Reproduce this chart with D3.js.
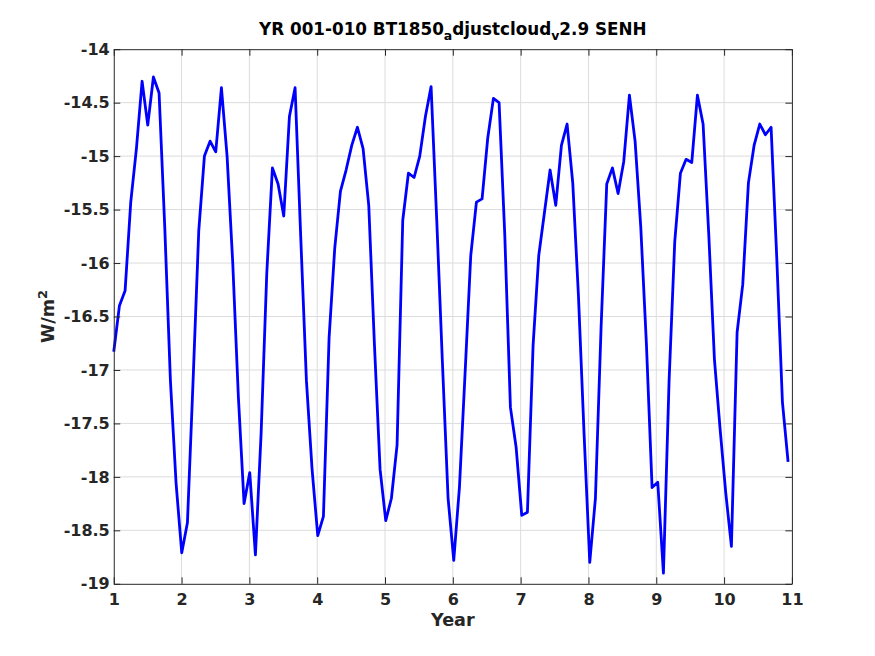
<!DOCTYPE html>
<html>
<head>
<meta charset="utf-8">
<script src="https://cdn.jsdelivr.net/npm/d3@7"></script>
<style>
  body { margin: 0; background: #fff; }
  svg { display: block; font-family: "DejaVu Sans", sans-serif; }
</style>
</head>
<body>
<svg id="chart"></svg>
<script>
// monthly values, one array per model year
const yr1  = [-16.83, -16.40, -16.26, -15.43, -14.93, -14.30, -14.71, -14.26, -14.41, -15.66, -17.10, -18.06];
const yr2  = [-18.71, -18.43, -17.10, -15.70, -15.00, -14.86, -14.96, -14.36, -15.00, -16.00, -17.26, -18.25];
const yr3  = [-17.96, -18.73, -17.60, -16.10, -15.11, -15.26, -15.56, -14.63, -14.36, -15.76, -17.10, -17.93];
const yr4  = [-18.55, -18.37, -16.70, -15.86, -15.33, -15.13, -14.90, -14.73, -14.93, -15.46, -16.76, -17.93];
const yr5  = [-18.41, -18.20, -17.70, -15.60, -15.16, -15.20, -15.00, -14.63, -14.35, -15.60, -16.93, -18.20];
const yr6  = [-18.78, -18.10, -17.03, -15.93, -15.43, -15.40, -14.83, -14.46, -14.50, -15.73, -17.35, -17.72];
const yr7  = [-18.36, -18.33, -16.77, -15.93, -15.53, -15.13, -15.46, -14.90, -14.70, -15.25, -16.30, -17.60];
const yr8  = [-18.80, -18.20, -16.60, -15.26, -15.11, -15.35, -15.05, -14.43, -14.86, -15.66, -16.76, -18.10];
const yr9  = [-18.05, -18.90, -17.10, -15.80, -15.16, -15.03, -15.06, -14.43, -14.70, -15.73, -16.90, -17.55];
const yr10 = [-18.15, -18.65, -16.65, -16.20, -15.25, -14.90, -14.70, -14.80, -14.73, -15.95, -17.30, -17.86];

// time axis: start year and step between samples (30.5-day months)
const tStart = 1;
const tStep = 30.5 / 365;

const xTicks = [1, 2, 3, 4, 5, 6, 7, 8, 9, 10, 11];
const yTicks = [-19, -18.5, -18, -17.5, -17, -16.5, -16, -15.5, -15, -14.5, -14];

const values = [].concat(yr1, yr2, yr3, yr4, yr5, yr6, yr7, yr8, yr9, yr10);
const data = values.map((v, i) => ({ t: tStart + i * tStep, v: v }));

// figure size and axes box (matlab default position)
const W = 875, H = 656;
const box = { left: 113.75, right: 791.9, top: 49.2, bottom: 583.8 };
const axisColor = "#262626";

const svg = d3.select("#chart").attr("width", W).attr("height", H);

const x = d3.scaleLinear().domain([1, 11]).range([box.left, box.right]);
const y = d3.scaleLinear().domain([-19, -14]).range([box.bottom, box.top]);

// grid
const grid = svg.append("g");
grid.selectAll("line.gx")
    .data(xTicks.slice(1, -1))
    .enter()
    .append("line")
    .attr("x1", d => x(d)).attr("x2", d => x(d))
    .attr("y1", box.top).attr("y2", box.bottom)
    .attr("stroke", "#dcdcdc").attr("stroke-width", 1);
grid.selectAll("line.gy")
    .data(yTicks.slice(1, -1))
    .enter()
    .append("line")
    .attr("y1", d => y(d)).attr("y2", d => y(d))
    .attr("x1", box.left).attr("x2", box.right)
    .attr("stroke", "#dcdcdc").attr("stroke-width", 1);

// data line
const line = d3.line().x(d => x(d.t)).y(d => y(d.v));
svg.append("path")
    .datum(data)
    .attr("d", line)
    .attr("fill", "none")
    .attr("stroke", "#0000ff")
    .attr("stroke-width", 2.8)
    .attr("stroke-linejoin", "round");

// axes, ticks pointing inward, mirrored on top and right
const fmt = d => String(d);
const tickLen = 6.5;
function styleAxis(g) {
    g.select(".domain").attr("stroke", axisColor).attr("stroke-width", 1);
    g.selectAll(".tick line").attr("stroke", axisColor);
    g.selectAll(".tick text")
        .attr("fill", axisColor)
        .style("font-size", "16px")
        .style("font-weight", "bold")
        .style("font-family", "DejaVu Sans");
}

svg.append("g")
    .attr("transform", "translate(0," + box.bottom + ")")
    .call(d3.axisBottom(x).tickValues(xTicks).tickSize(-tickLen).tickPadding(10).tickSizeOuter(0).tickFormat(fmt))
    .call(styleAxis);
svg.append("g")
    .attr("transform", "translate(0," + box.top + ")")
    .call(d3.axisTop(x).tickValues(xTicks).tickSize(-tickLen).tickSizeOuter(0).tickFormat(""))
    .call(styleAxis);
svg.append("g")
    .attr("transform", "translate(" + box.left + ",0)")
    .call(d3.axisLeft(y).tickValues(yTicks).tickSize(-tickLen).tickPadding(4).tickSizeOuter(0).tickFormat(fmt))
    .call(styleAxis);
svg.append("g")
    .attr("transform", "translate(" + box.right + ",0)")
    .call(d3.axisRight(y).tickValues(yTicks).tickSize(-tickLen).tickSizeOuter(0).tickFormat(""))
    .call(styleAxis);

// labels
svg.append("text")
    .attr("x", (box.left + box.right) / 2)
    .attr("y", 626)
    .attr("text-anchor", "middle")
    .attr("fill", axisColor)
    .style("font-size", "17.6px")
    .style("font-weight", "bold")
    .text("Year");

svg.append("text")
    .attr("transform", "rotate(-90)")
    .attr("x", -(box.top + box.bottom) / 2)
    .attr("y", 54)
    .attr("text-anchor", "middle")
    .attr("fill", axisColor)
    .style("font-size", "17.6px")
    .style("font-weight", "bold")
    .call(t => {
        t.append("tspan").text("W/m");
        t.append("tspan").attr("dy", -7).style("font-size", "13px").text("2");
    });

// title with tex-style subscripts
const title = svg.append("text")
    .attr("x", (box.left + box.right) / 2)
    .attr("y", 35)
    .attr("text-anchor", "middle")
    .attr("fill", "#000")
    .style("font-size", "16.8px")
    .style("font-weight", "bold");
title.append("tspan").text("YR 001-010 BT1850");
title.append("tspan").attr("dy", 5).style("font-size", "12.5px").text("a");
title.append("tspan").attr("dy", -5).text("djustcloud");
title.append("tspan").attr("dy", 5).style("font-size", "12.5px").text("v");
title.append("tspan").attr("dy", -5).text("2.9 SENH");
</script>
</body>
</html>
